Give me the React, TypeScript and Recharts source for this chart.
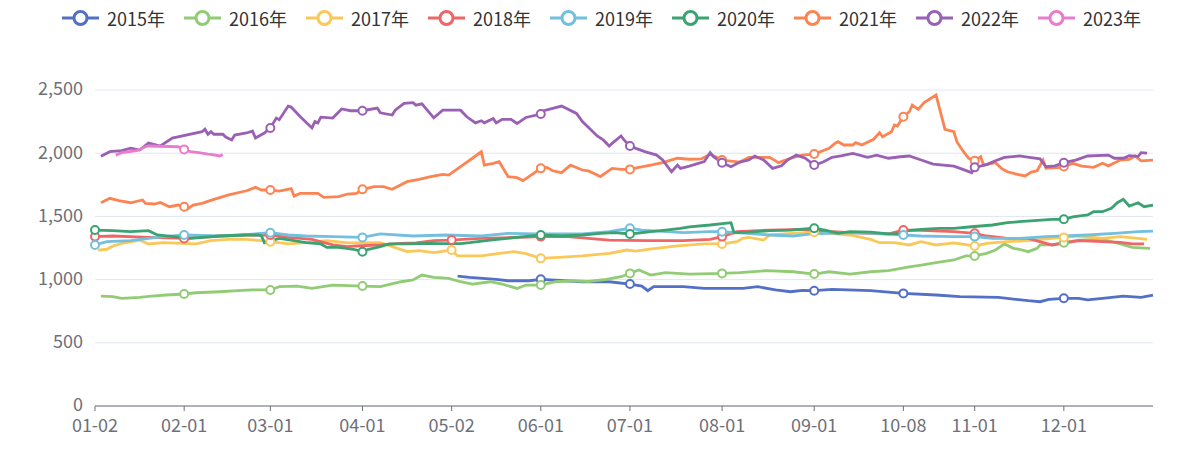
import React from "react";
import { LineChart, Line, XAxis, YAxis, CartesianGrid } from "recharts";

type Pt = [string, number];

// trading-day calendar: every day of the year except New Year, May Day and the October golden week
const MONTH_LEN = [31, 29, 31, 30, 31, 30, 31, 31, 30, 31, 30, 31];
const DAYS: string[] = [];
MONTH_LEN.forEach((len, m) => {
  for (let d = 1; d <= len; d++) {
    const key = `${String(m + 1).padStart(2, "0")}-${String(d).padStart(2, "0")}`;
    if (key === "01-01" || key === "05-01" || (m === 9 && d <= 7)) continue;
    DAYS.push(key);
  }
});

const TICKS = ["01-02", "02-01", "03-01", "04-01", "05-02", "06-01", "07-01", "08-01", "09-01", "10-08", "11-01", "12-01"];
const Y_TICKS = [0, 500, 1000, 1500, 2000, 2500];

const s2015: Pt[] = [["05-04",1028],["05-08",1018],["05-17",1002],["05-21",991],["05-28",991],["06-01",1002],["06-06",995],["06-15",983],["06-24",983],["07-01",965],["07-05",949],["07-07",912],["07-09",944],["07-19",944],["07-26",930],["08-08",930],["08-13",944],["08-19",918],["08-24",904],["08-28",915],["09-01",912],["09-07",923],["09-20",912],["10-08",891],["10-19",878],["10-27",865],["11-09",860],["11-19",833],["11-23",825],["11-26",844],["12-01",852],["12-06",852],["12-09",839],["12-14",852],["12-21",870],["12-27",860],["12-31",878]];

const s2016: Pt[] = [["01-04",870],["01-08",865],["01-11",852],["01-17",860],["01-21",870],["01-26",878],["02-01",886],["02-05",896],["02-13",904],["02-19",912],["02-24",918],["03-01",918],["03-04",944],["03-10",949],["03-15",930],["03-22",957],["04-01",949],["04-07",944],["04-14",983],["04-18",997],["04-21",1036],["04-25",1018],["04-30",1010],["05-05",983],["05-09",965],["05-15",983],["05-19",965],["05-24",930],["05-27",957],["06-01",957],["06-06",983],["06-12",991],["06-17",985],["06-23",1002],["06-28",1023],["07-01",1049],["07-04",1076],["07-08",1036],["07-13",1055],["07-21",1044],["08-01",1049],["08-07",1055],["08-16",1071],["08-25",1062],["09-01",1044],["09-06",1062],["09-13",1044],["09-20",1062],["09-26",1071],["10-10",1100],["10-14",1115],["10-19",1134],["10-25",1155],["10-29",1187],["11-01",1187],["11-05",1208],["11-08",1234],["11-11",1282],["11-14",1247],["11-16",1240],["11-19",1221],["11-22",1247],["11-23",1274],["11-27",1274],["12-01",1292],["12-06",1313],["12-14",1318],["12-20",1282],["12-24",1255],["12-30",1247]];

const s2017: Pt[] = [["01-03",1234],["01-06",1240],["01-08",1266],["01-11",1287],["01-17",1313],["01-20",1282],["01-25",1292],["02-05",1282],["02-10",1308],["02-16",1318],["02-22",1318],["02-27",1308],["03-01",1300],["03-07",1282],["03-13",1292],["03-20",1308],["03-27",1290],["04-07",1292],["04-11",1261],["04-16",1221],["04-20",1229],["04-25",1213],["05-02",1234],["05-04",1187],["05-12",1187],["05-18",1208],["05-23",1221],["05-27",1205],["06-01",1168],["06-07",1176],["06-15",1187],["06-24",1208],["06-30",1234],["07-03",1225],["07-07",1240],["07-17",1266],["07-26",1282],["08-01",1282],["08-06",1300],["08-08",1326],["08-10",1334],["08-15",1313],["08-17",1353],["08-22",1361],["09-01",1375],["09-13",1353],["09-20",1318],["09-23",1292],["09-28",1292],["10-10",1274],["10-14",1300],["10-19",1274],["10-25",1290],["11-01",1266],["11-05",1287],["11-12",1300],["11-19",1308],["11-27",1326],["12-01",1334],["12-06",1345],["12-14",1326],["12-20",1340],["12-26",1326],["12-29",1318]];

const s2018: Pt[] = [["01-02",1340],["01-08",1345],["01-20",1334],["02-01",1326],["02-13",1345],["02-22",1353],["03-01",1353],["03-07",1334],["03-15",1318],["03-22",1274],["03-27",1261],["03-30",1266],["04-07",1274],["04-14",1287],["04-19",1290],["04-25",1308],["05-02",1313],["05-07",1320],["05-12",1326],["05-25",1335],["06-01",1340],["06-10",1340],["06-17",1326],["06-24",1313],["07-07",1308],["07-19",1308],["07-28",1318],["08-01",1340],["08-06",1379],["08-17",1392],["08-27",1398],["09-03",1385],["09-13",1371],["09-26",1361],["10-08",1392],["10-14",1390],["10-25",1379],["11-01",1366],["11-05",1345],["11-12",1326],["11-19",1326],["11-25",1287],["11-27",1274],["12-06",1308],["12-14",1300],["12-20",1295],["12-24",1282],["12-28",1282]];

const s2019: Pt[] = [["01-02",1274],["01-06",1300],["01-14",1308],["01-20",1326],["01-25",1340],["02-01",1353],["02-13",1345],["02-20",1353],["03-01",1371],["03-07",1353],["03-13",1345],["03-22",1340],["04-01",1334],["04-07",1361],["04-18",1345],["04-29",1353],["05-12",1345],["05-21",1366],["05-31",1361],["06-15",1361],["06-24",1379],["07-01",1406],["07-05",1392],["07-19",1371],["07-28",1379],["08-01",1379],["08-17",1353],["08-25",1345],["08-31",1361],["09-13",1371],["09-26",1361],["10-08",1353],["10-14",1345],["10-25",1340],["11-01",1340],["11-07",1326],["11-16",1326],["11-25",1340],["12-09",1353],["12-18",1366],["12-26",1379],["12-31",1384]];

const s2020: Pt[] = [["01-02",1392],["01-08",1387],["01-14",1379],["01-20",1387],["01-23",1353],["02-03",1326],["02-13",1345],["02-22",1353],["02-26",1353],["02-27",1345],["02-28",1292],["03-04",1326],["03-09",1308],["03-13",1292],["03-18",1282],["03-20",1255],["03-24",1255],["03-29",1240],["04-01",1221],["04-03",1240],["04-07",1261],["04-10",1282],["04-16",1282],["04-24",1287],["04-27",1285],["05-05",1285],["05-08",1292],["05-15",1313],["05-24",1334],["06-01",1353],["06-08",1345],["06-15",1353],["06-21",1366],["06-26",1371],["07-01",1361],["07-08",1379],["07-13",1392],["07-18",1406],["07-21",1418],["07-28",1432],["08-04",1450],["08-05",1371],["08-10",1375],["08-17",1387],["08-24",1392],["09-01",1406],["09-05",1390],["09-09",1366],["09-13",1379],["09-20",1375],["09-26",1361],["09-30",1361],["10-09",1387],["10-14",1398],["10-20",1406],["10-25",1406],["10-31",1418],["11-07",1432],["11-12",1450],["11-16",1458],["11-21",1466],["11-27",1477],["12-01",1477],["12-04",1497],["12-09",1511],["12-11",1537],["12-14",1537],["12-17",1564],["12-19",1608],["12-21",1635],["12-23",1582],["12-26",1608],["12-28",1577],["12-31",1590]];

const s2021: Pt[] = [["01-04",1608],["01-07",1643],["01-10",1624],["01-14",1608],["01-18",1630],["01-19",1603],["01-22",1598],["01-24",1610],["01-27",1577],["01-30",1590],["02-01",1577],["02-02",1556],["02-04",1590],["02-07",1603],["02-11",1635],["02-16",1670],["02-22",1703],["02-25",1730],["02-27",1709],["03-01",1709],["03-04",1700],["03-08",1720],["03-09",1661],["03-11",1682],["03-17",1682],["03-19",1651],["03-24",1656],["03-27",1677],["03-30",1682],["04-01",1714],["04-05",1735],["04-08",1735],["04-11",1714],["04-16",1775],["04-20",1793],["04-24",1814],["04-28",1833],["04-30",1827],["05-05",1893],["05-09",1960],["05-12",2012],["05-13",1906],["05-16",1920],["05-18",1933],["05-21",1814],["05-24",1806],["05-26",1783],["05-28",1814],["06-01",1880],["06-03",1888],["06-05",1861],["06-08",1846],["06-11",1906],["06-15",1867],["06-17",1860],["06-20",1827],["06-21",1814],["06-25",1880],["06-28",1872],["07-01",1872],["07-04",1888],["07-08",1906],["07-12",1925],["07-17",1960],["07-21",1952],["07-25",1955],["07-28",1993],["08-01",1946],["08-07",1930],["08-10",1967],["08-17",1967],["08-20",1925],["08-24",1960],["08-28",1985],["09-01",1993],["09-06",2038],["09-08",2078],["09-09",2091],["09-11",2065],["09-14",2065],["09-15",2083],["09-17",2065],["09-21",2110],["09-23",2162],["09-24",2130],["09-27",2170],["09-28",2223],["09-29",2215],["10-08",2289],["10-10",2328],["10-11",2381],["10-13",2347],["10-15",2400],["10-19",2460],["10-22",2189],["10-25",2170],["10-26",2091],["10-28",2020],["10-30",1960],["11-01",1940],["11-03",1972],["11-04",1906],["11-08",1925],["11-10",1880],["11-12",1853],["11-15",1835],["11-18",1820],["11-20",1850],["11-22",1861],["11-24",1946],["11-25",1880],["11-30",1888],["12-01",1895],["12-04",1920],["12-07",1898],["12-11",1888],["12-14",1920],["12-16",1900],["12-20",1946],["12-23",1952],["12-25",1978],["12-27",1940],["12-31",1946]];

const s2022: Pt[] = [["01-04",1975],["01-07",2012],["01-11",2020],["01-14",2040],["01-17",2025],["01-20",2080],["01-24",2057],["01-28",2120],["02-07",2170],["02-08",2190],["02-09",2150],["02-10",2170],["02-11",2150],["02-14",2150],["02-15",2128],["02-17",2105],["02-18",2144],["02-22",2160],["02-24",2175],["02-25",2120],["02-28",2160],["03-01",2200],["03-03",2278],["03-04",2265],["03-07",2373],["03-08",2365],["03-11",2290],["03-15",2200],["03-16",2250],["03-17",2240],["03-18",2285],["03-22",2278],["03-25",2350],["03-28",2336],["04-01",2336],["04-06",2357],["04-07",2320],["04-11",2302],["04-12",2340],["04-15",2395],["04-18",2400],["04-19",2380],["04-21",2390],["04-25",2280],["04-28",2340],["05-05",2340],["05-07",2290],["05-10",2240],["05-12",2257],["05-13",2240],["05-16",2275],["05-17",2240],["05-19",2268],["05-22",2268],["05-24",2235],["05-25",2250],["05-27",2283],["06-01",2310],["06-02",2336],["06-08",2373],["06-13",2315],["06-15",2250],["06-20",2136],["06-22",2105],["06-24",2057],["06-25",2078],["06-28",2136],["06-29",2105],["07-01",2057],["07-03",2038],["07-06",2012],["07-10",1985],["07-12",1946],["07-15",1853],["07-17",1906],["07-18",1880],["07-21",1898],["07-26",1933],["07-28",2004],["07-29",1975],["08-01",1925],["08-04",1893],["08-07",1930],["08-10",1946],["08-12",1978],["08-15",1946],["08-18",1880],["08-21",1900],["08-23",1946],["08-26",1985],["08-29",1960],["09-01",1906],["09-04",1930],["09-07",1967],["09-10",1978],["09-14",1999],["09-19",1967],["09-22",1985],["09-26",1960],["09-30",1972],["10-10",1978],["10-14",1946],["10-18",1914],["10-25",1898],["10-28",1872],["10-31",1846],["11-01",1888],["11-05",1910],["11-08",1940],["11-11",1967],["11-16",1978],["11-20",1965],["11-23",1955],["11-25",1893],["11-28",1900],["12-01",1925],["12-05",1946],["12-09",1978],["12-16",1985],["12-18",1960],["12-21",1960],["12-23",1980],["12-26",1975],["12-27",2004],["12-29",2000]];

const s2023: Pt[] = [["01-09",1985],["01-11",2004],["01-16",2020],["01-19",2051],["01-20",2057],["01-30",2051],["02-01",2030],["02-03",2012],["02-06",2004],["02-09",1993],["02-10",1990],["02-13",1978],["02-14",1990]];

const SERIES = [
  { name: "2015年", key: "y2015", color: "#5470c6", pts: s2015 },
  { name: "2016年", key: "y2016", color: "#91cc75", pts: s2016 },
  { name: "2017年", key: "y2017", color: "#fac858", pts: s2017 },
  { name: "2018年", key: "y2018", color: "#ee6666", pts: s2018 },
  { name: "2019年", key: "y2019", color: "#73c0de", pts: s2019 },
  { name: "2020年", key: "y2020", color: "#3ba272", pts: s2020 },
  { name: "2021年", key: "y2021", color: "#fc8452", pts: s2021 },
  { name: "2022年", key: "y2022", color: "#9a60b4", pts: s2022 },
  { name: "2023年", key: "y2023", color: "#ea7ccc", pts: s2023 },
];

const lookups = SERIES.map((s) => new Map(s.pts));
const tableData = DAYS.map((d) => {
  const row: Record<string, string | number | null> = { d };
  SERIES.forEach((s, i) => {
    row[s.key] = lookups[i].get(d) ?? null;
  });
  return row;
});

const TICK_SET = new Set(TICKS);
const FONT = "'Noto Sans CJK SC', 'Noto Sans', sans-serif";
const AXIS = "#6E7079";

const makeDot = (key: string, color: string) => (props: any) => {
  const { cx, cy, payload, index } = props;
  if (cx == null || cy == null || payload == null || payload[key] == null || !TICK_SET.has(payload.d)) {
    return <g key={`${key}-${index}`} />;
  }
  return <circle key={`${key}-${index}`} cx={cx} cy={cy} r={4} fill="#fff" stroke={color} strokeWidth={2} />;
};

function LegendRow() {
  return (
    <>
      {SERIES.map((s, i) => (
        <div
          key={s.key}
          style={{ position: "absolute", left: 62 + i * 122, top: 6, height: 24, display: "flex", alignItems: "center" }}
        >
          <svg width={37} height={20}>
            <line x1={0} y1={10} x2={37} y2={10} stroke={s.color} strokeWidth={3} />
            <circle cx={18.5} cy={10} r={6.5} fill="#fff" stroke={s.color} strokeWidth={3} />
          </svg>
          <span style={{ marginLeft: 8, fontSize: 18, color: "#333", fontFamily: FONT, whiteSpace: "nowrap" }}>{s.name}</span>
        </div>
      ))}
    </>
  );
}

export default function App() {
  return (
    <div style={{ position: "absolute", left: 0, top: 0, width: 1201, height: 450, background: "#fff", fontFamily: FONT }}>
      <LineChart width={1201} height={450} data={tableData} margin={{ top: 90, right: 48, bottom: 14, left: 35 }}>
        <CartesianGrid vertical={false} stroke="#E0E6F1" />
        <XAxis
          dataKey="d"
          ticks={TICKS}
          interval={0}
          height={30}
          tickSize={5}
          tickMargin={8}
          axisLine={{ stroke: AXIS }}
          tickLine={{ stroke: AXIS }}
          tick={{ fill: AXIS, fontSize: 18, fontFamily: FONT }}
        />
        <YAxis
          type="number"
          domain={[0, 2500]}
          ticks={Y_TICKS}
          width={60}
          axisLine={false}
          tickLine={false}
          tickMargin={6}
          tick={{ fill: AXIS, fontSize: 18, fontFamily: FONT, dy: -1 }}
          tickFormatter={(v: number) => v.toLocaleString("en-US")}
        />
        {SERIES.map((s) => (
          <Line
            key={s.key}
            type="linear"
            dataKey={s.key}
            name={s.name}
            stroke={s.color}
            strokeWidth={2.8}
            connectNulls
            dot={makeDot(s.key, s.color)}
            activeDot={false}
            isAnimationActive={false}
          />
        ))}
      </LineChart>
      <LegendRow />
    </div>
  );
}
